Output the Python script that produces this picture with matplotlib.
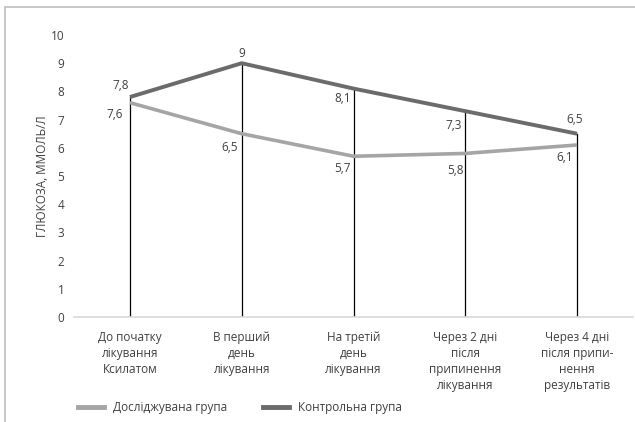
import matplotlib.pyplot as plt
from matplotlib.lines import Line2D
from matplotlib.patches import Rectangle

plt.rcParams['font.family'] = ['Open Sans', 'DejaVu Sans']

# дані
categories = ['До початку\nлікування\nКсилатом', 'В перший\nдень\nлікування',
              'На третій\nдень\nлікування', 'Через 2 дні\nпісля\nприпинення\nлікування',
              'Через 4 дні\nпісля припи-\nнення\nрезультатів']
study = [7.6, 6.5, 5.7, 5.8, 6.1]
control = [7.8, 9.0, 8.1, 7.3, 6.5]
study_labels = ['7,6', '6,5', '5,7', '5,8', '6,1']
control_labels = ['7,8', '9', '8,1', '7,3', '6,5']

# зсуви підписів (пікселі)
study_off = [(-15, -12), (-12, -14), (-11, -12), (-10, -17), (-12, -13)]
control_off = [(-9, 12), (0, 10), (-11, -10), (-12, -14), (-2, 14)]

light = '#a5a5a5'
dark = '#6b6b6b'
txt = '#404040'

fig = plt.figure(figsize=(6.35, 4.22), dpi=100)
fig.patches.append(Rectangle((5 / 635, -0.1), 1.1, 1.1 - 7.5 / 422, transform=fig.transFigure,
                             fill=False, edgecolor='#bfbfbf', linewidth=1.2))

ax = fig.add_axes([74 / 635, 1 - 317 / 422, 559 / 635, 282 / 422])
x = list(range(len(categories)))

# вертикальні лінії від максимуму до нуля
for i in x:
    ax.plot([i, i], [0, max(study[i], control[i])], color='black', lw=0.9, zorder=1)

ax.plot(x, study, color=light, lw=2.6, solid_capstyle='butt', zorder=2)
ax.plot(x, control, color=dark, lw=2.8, solid_capstyle='butt', zorder=3)

for i in x:
    ax.annotate(study_labels[i], (i, study[i]), xytext=study_off[i], textcoords='offset pixels',
                ha='center', va='center', fontsize=8.5, color=txt)
    ax.annotate(control_labels[i], (i, control[i]), xytext=control_off[i], textcoords='offset pixels',
                ha='center', va='center', fontsize=8.5, color=txt)

ax.set_xlim(-0.5, len(categories) - 0.5)
ax.set_ylim(0, 10)
ax.set_yticks(range(0, 11))
ax.set_xticks(x)
ax.set_xticklabels(categories, fontsize=8.5, color=txt, linespacing=1.3)
ax.tick_params(axis='both', length=0, labelsize=8.5, colors=txt)
ax.tick_params(axis='x', pad=10)
ax.tick_params(axis='y', pad=7)
for s in ['top', 'right', 'left']:
    ax.spines[s].set_visible(False)
ax.spines['bottom'].set_color('#d9d9d9')
ax.spines['bottom'].set_linewidth(1.2)

ax.set_ylabel('ГЛЮКОЗА, ММОЛЬ/Л', fontsize=8.5, color=txt, labelpad=1)

handles = [Line2D([], [], color=light, lw=3.5), Line2D([], [], color=dark, lw=3.5)]
fig.legend(handles, ['Досліджувана група', 'Контрольна група'], loc='center left',
           bbox_to_anchor=(67 / 635, 1 - 408 / 422), ncol=2, frameon=False,
           fontsize=8.5, handlelength=2.2, handletextpad=0.8, columnspacing=3.0, labelcolor=txt)

fig.savefig('out.png', dpi=100)
